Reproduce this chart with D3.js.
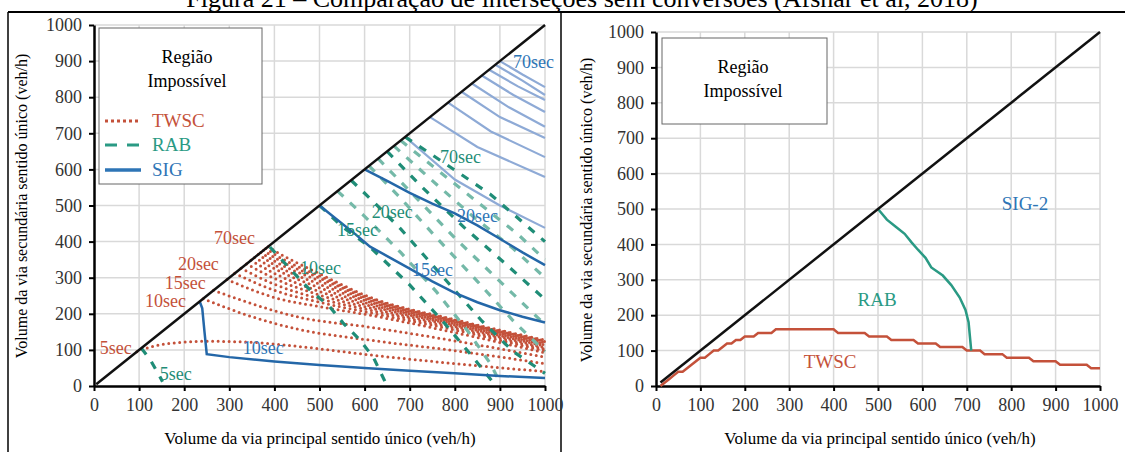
<!DOCTYPE html>
<html>
<head>
<meta charset="utf-8">
<script src="https://cdn.jsdelivr.net/npm/d3@7"></script>
<style>
  body { margin: 0; background: #fff; }
  svg, svg text { font-family: "Liberation Serif", "Times New Roman", Times, serif !important; }
</style>
</head>
<body>
<div id="chart"></div>
<script>
// tick values shared by both panels
let ticks = [0, 100, 200, 300, 400, 500, 600, 700, 800, 900, 1000];

// ---- left panel data (veh/h) ----
let diagLeft = [[5, 5], [1000, 1000]];

let twscLeft = [
  [[95, 95], [150, 115], [250, 124], [350, 121], [450, 110], [612, 86], [800, 62], [1000, 40]],
  [[242, 242], [350, 192], [450, 158], [612, 127], [800, 98], [1000, 62]],
  [[265, 265], [350, 228], [450, 192], [612, 163], [800, 125], [1000, 80]],
  [[295, 295], [400, 245], [500, 220], [612, 196], [800, 148], [1000, 92]],
  [[312, 312], [400, 265], [500, 232], [612, 203], [800, 155], [1000, 97]],
  [[326, 326], [400, 282], [500, 242], [612, 210], [800, 160], [1000, 102]],
  [[338, 338], [400, 298], [500, 252], [612, 216], [800, 165], [1000, 106]],
  [[348, 348], [400, 312], [500, 262], [612, 222], [800, 169], [1000, 110]],
  [[356, 356], [400, 325], [500, 272], [612, 227], [800, 172], [1000, 114]],
  [[364, 364], [400, 336], [500, 282], [612, 232], [800, 175], [1000, 117]],
  [[370, 370], [400, 346], [500, 291], [612, 236], [800, 178], [1000, 120]],
  [[376, 376], [400, 356], [500, 299], [612, 240], [800, 180], [1000, 123]],
  [[381, 381], [400, 365], [500, 305], [612, 243], [800, 182], [1000, 125]],
  [[386, 386], [400, 375], [500, 311], [612, 246], [800, 184], [1000, 127]]
];

let rabDark = [
  [[105, 105], [125, 72], [142, 35], [152, 12]],
  [[390, 385], [441, 316], [479, 266], [523, 219], [552, 175], [590, 127], [620, 78], [648, 5]],
  [[500, 500], [552, 440], [612, 385], [700, 280], [780, 170], [840, 80], [888, 5]],
  [[570, 570], [620, 510], [680, 435], [740, 350], [800, 265], [860, 180], [930, 95], [1000, 35]],
  [[650, 650], [720, 560], [820, 440], [920, 330], [1000, 240]],
  [[690, 690], [780, 615], [880, 530], [1000, 400]]
];

let rabLight = [
  [[540, 540], [600, 470], [680, 370], [760, 260], [830, 150], [880, 60], [900, 10]],
  [[610, 610], [680, 520], [760, 410], [850, 290], [930, 180], [1000, 95]],
  [[630, 630], [700, 540], [800, 410], [900, 290], [1000, 170]],
  [[665, 665], [740, 580], [840, 470], [930, 380], [1000, 300]],
  [[680, 680], [760, 600], [860, 500], [940, 420], [1000, 350]]
];

let sigDark = [
  [[235, 232], [240, 215], [245, 150], [250, 88], [300, 80], [400, 68], [500, 58], [600, 50], [700, 42], [800, 35], [900, 28], [1000, 22]],
  [[500, 500], [540, 460], [580, 420], [612, 386], [650, 360], [700, 325], [750, 290], [800, 258], [850, 232], [900, 210], [950, 192], [1000, 176]],
  [[600, 600], [650, 568], [700, 535], [750, 505], [800, 478], [850, 445], [900, 408], [950, 370], [1000, 335]]
];

let sigLight = [
  [[690, 690], [800, 572], [900, 500], [1000, 438]],
  [[745, 745], [850, 662], [1000, 579]],
  [[785, 785], [880, 705], [1000, 634]],
  [[815, 815], [900, 745], [1000, 687]],
  [[838, 838], [920, 772], [1000, 718]],
  [[860, 860], [930, 806], [1000, 759]],
  [[876, 876], [940, 830], [1000, 792]],
  [[890, 890], [950, 846], [1000, 806]],
  [[900, 900], [950, 863], [1000, 828]]
];

// [x, y, text] in data units
let twscLabels = [[266, 393, "70sec"], [186, 321, "20sec"], [157, 269, "15sec"], [113, 219, "10sec"], [13, 89, "5sec"]];
let rabLabels = [[146, 17, "5sec"], [457, 310, "10sec"], [539, 415, "15sec"], [616, 465, "20sec"], [767, 618, "70sec"]];
let sigLabels = [[330, 89, "10sec"], [705, 305, "15sec"], [805, 454, "20sec"], [929, 881, "70sec"]];

// ---- right panel data ----
let diagRight = [[10, 10], [1000, 1000]];
let twscRight = [[10, 0], [20, 10], [30, 20], [40, 30], [50, 40], [60, 40], [70, 50], [80, 60], [90, 70], [100, 80],
  [110, 80], [120, 90], [130, 100], [140, 100], [150, 110], [160, 120], [170, 120], [180, 130], [190, 130], [200, 140],
  [220, 140], [230, 150], [260, 150], [270, 160], [400, 160], [410, 150], [470, 150], [480, 140], [520, 140], [530, 130],
  [580, 130], [590, 120], [630, 120], [640, 110], [690, 110], [700, 100], [730, 100], [740, 90], [780, 90], [790, 80],
  [840, 80], [850, 70], [900, 70], [910, 60], [970, 60], [980, 50], [1000, 50]];
let rabRight = [[500, 500], [520, 470], [540, 450], [560, 430], [576, 405], [590, 385], [607, 362], [620, 335],
  [646, 312], [665, 285], [684, 250], [697, 215], [704, 180], [710, 100]];
let rightLabels = [[831, 497, "SIG-2", "#2e75b6"], [498, 226, "RAB", "#2a9a84"], [392, 51, "TWSC", "#c4513a"]];

let red = "#c4513a", tealDark = "#1f8d77", tealLight = "#74b9a8";
let blueDark = "#2467a8", blueLight = "#8eaad6";
let serif = "Liberation Serif, Times New Roman, serif";

let svg = d3.select("#chart").append("svg").attr("width", 1125).attr("height", 452)
  .attr("font-family", serif);

// title (cut at the top of the page, as in the source)
svg.append("text").attr("x", 582).attr("y", 7).attr("text-anchor", "middle")
  .attr("font-size", 26).attr("fill", "#000")
  .text("Figura 21 – Comparação de interseções sem conversões (Afshar et al, 2018)");

// frame
svg.append("line").attr("x1", 8).attr("x2", 1125).attr("y1", 12).attr("y2", 12).attr("stroke", "#000").attr("stroke-width", 2);
svg.append("line").attr("x1", 8).attr("x2", 8).attr("y1", 12).attr("y2", 452).attr("stroke", "#000").attr("stroke-width", 1.5);
svg.append("line").attr("x1", 561).attr("x2", 561).attr("y1", 12).attr("y2", 452).attr("stroke", "#000").attr("stroke-width", 1.5);

function panel(x, y) {
  let g = svg.append("g");
  g.selectAll(".gx").data(ticks.slice(1)).join("line")
    .attr("x1", d => x(d)).attr("x2", d => x(d)).attr("y1", y(0)).attr("y2", y(1000))
    .attr("stroke", "#d9d9d9").attr("stroke-width", 1.5);
  g.selectAll(".gy").data(ticks.slice(1)).join("line")
    .attr("x1", x(0)).attr("x2", x(1000)).attr("y1", d => y(d)).attr("y2", d => y(d))
    .attr("stroke", "#d9d9d9").attr("stroke-width", 1.5);
  let ax = g.append("g").attr("transform", "translate(0," + y(0) + ")")
    .call(d3.axisBottom(x).tickValues(ticks).tickFormat(d3.format("d")).tickSize(5).tickPadding(7).tickSizeOuter(0));
  let ay = g.append("g").attr("transform", "translate(" + x(0) + ",0)")
    .call(d3.axisLeft(y).tickValues(ticks).tickFormat(d3.format("d")).tickSize(5).tickPadding(7).tickSizeOuter(0));
  [ax, ay].forEach(a => {
    a.attr("font-family", serif);
    a.select(".domain").attr("stroke", "#000").attr("stroke-width", 2.5);
    a.selectAll(".tick line").attr("stroke", "#000").attr("stroke-width", 2);
    a.selectAll(".tick text").attr("font-size", 18).attr("fill", "#333");
  });
  return g;
}

function legendBox(x0, y0, w, h, cx) {
  svg.append("rect").attr("x", x0).attr("y", y0).attr("width", w).attr("height", h)
    .attr("fill", "#fff").attr("stroke", "#666").attr("stroke-width", 1);
  svg.append("text").attr("x", cx).attr("y", y0 + 35).attr("text-anchor", "middle").attr("font-size", 18).text("Região");
  svg.append("text").attr("x", cx).attr("y", y0 + 59).attr("text-anchor", "middle").attr("font-size", 18).text("Impossível");
}

// ---------- LEFT ----------
let xL = d3.scaleLinear().domain([0, 1000]).range([94, 545]);
let yL = d3.scaleLinear().domain([0, 1000]).range([386, 25]);
let gL = panel(xL, yL);
let lineL = d3.line().x(d => xL(d[0])).y(d => yL(d[1])).curve(d3.curveMonotoneX);
let lineLs = d3.line().x(d => xL(d[0])).y(d => yL(d[1]));

gL.selectAll(".sl").data(sigLight).join("path").attr("d", lineLs)
  .attr("fill", "none").attr("stroke", blueLight).attr("stroke-width", 2.2);
gL.selectAll(".tw").data(twscLeft).join("path").attr("d", lineL)
  .attr("fill", "none").attr("stroke", red).attr("stroke-width", 3)
  .attr("stroke-linecap", "round").attr("stroke-dasharray", "0,5.5");
gL.selectAll(".rl").data(rabLight).join("path").attr("d", lineLs)
  .attr("fill", "none").attr("stroke", tealLight).attr("stroke-width", 3.2).attr("stroke-dasharray", "8,9");
gL.selectAll(".rd").data(rabDark).join("path").attr("d", lineLs)
  .attr("fill", "none").attr("stroke", tealDark).attr("stroke-width", 3.2).attr("stroke-dasharray", "8,9");
gL.selectAll(".sd").data(sigDark).join("path").attr("d", lineLs)
  .attr("fill", "none").attr("stroke", blueDark).attr("stroke-width", 2.5);
gL.append("path").datum(diagLeft).attr("d", lineLs).attr("fill", "none").attr("stroke", "#111").attr("stroke-width", 2.5);

function labels(g, x, y, data, color) {
  g.selectAll(null).data(data).join("text")
    .attr("x", d => x(d[0])).attr("y", d => y(d[1]))
    .attr("font-size", 18).attr("fill", color).text(d => d[2]);
}
labels(gL, xL, yL, twscLabels, red);
labels(gL, xL, yL, rabLabels, tealDark);
labels(gL, xL, yL, sigLabels, "#2e75b6");

legendBox(99, 28, 163, 156, 187);
let leg = [["TWSC", red, "3,3", 121], ["RAB", "#2a9a84", "12,10", 145], ["SIG", "#2e75b6", null, 170]];
leg.forEach(l => {
  let ln = svg.append("line").attr("x1", 105).attr("x2", 141).attr("y1", l[3]).attr("y2", l[3])
    .attr("stroke", l[1]).attr("stroke-width", l[2] ? 3 : 3.5);
  if (l[2]) ln.attr("stroke-dasharray", l[2]);
  svg.append("text").attr("x", 152).attr("y", l[3] + 6).attr("font-size", 19).attr("fill", l[1]).text(l[0]);
});

svg.append("text").attr("transform", "translate(27,206) rotate(-90)").attr("text-anchor", "middle")
  .attr("font-size", 16).text("Volume da via secundária sentido único (veh/h)");
svg.append("text").attr("x", 320).attr("y", 444).attr("text-anchor", "middle")
  .attr("font-size", 17).text("Volume da via principal sentido único (veh/h)");

// ---------- RIGHT ----------
let xR = d3.scaleLinear().domain([0, 1000]).range([656, 1100]);
let yR = d3.scaleLinear().domain([0, 1000]).range([386, 32]);
let gR = panel(xR, yR);
let lineR = d3.line().x(d => xR(d[0])).y(d => yR(d[1]));

gR.append("path").datum(twscRight).attr("d", lineR).attr("fill", "none").attr("stroke", red).attr("stroke-width", 2.5);
gR.append("path").datum(rabRight).attr("d", lineR).attr("fill", "none").attr("stroke", "#2a9a84").attr("stroke-width", 2.5);
gR.append("path").datum(diagRight).attr("d", lineR).attr("fill", "none").attr("stroke", "#111").attr("stroke-width", 2.5);
gR.selectAll(null).data(rightLabels).join("text")
  .attr("x", d => xR(d[0])).attr("y", d => yR(d[1])).attr("text-anchor", "middle")
  .attr("font-size", 19).attr("fill", d => d[3]).text(d => d[2]);

legendBox(662, 38, 165, 86, 743);

svg.append("text").attr("transform", "translate(592,210) rotate(-90)").attr("text-anchor", "middle")
  .attr("font-size", 16).text("Volume da via secundária sentido único (veh/h)");
svg.append("text").attr("x", 880).attr("y", 444).attr("text-anchor", "middle")
  .attr("font-size", 17).text("Volume da via principal sentido único (veh/h)");
</script>
</body>
</html>
